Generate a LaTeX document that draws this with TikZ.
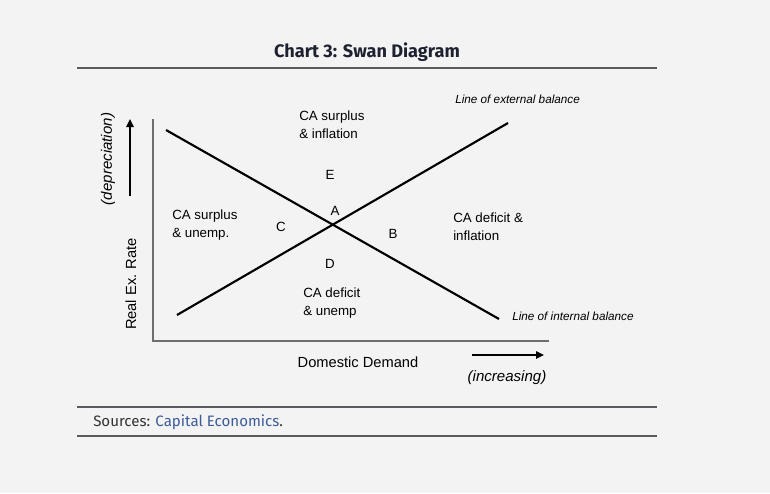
\documentclass[tikz,border=0pt]{standalone}
\usepackage{fontspec}
\setmainfont{Liberation Sans}
\newfontfamily\titlefont{Fira Sans}
\usetikzlibrary{arrows.meta}
\definecolor{bgc}{HTML}{F3F3F4}
\definecolor{rulec}{HTML}{5A5A5E}
\definecolor{axisc}{HTML}{6E6E6E}
\definecolor{linkc}{HTML}{3B5B98}
\definecolor{titlec}{HTML}{1E2230}
\begin{document}
\begin{tikzpicture}[x=0.75pt,y=-0.75pt,
  lbl/.style={font=\fontsize{10}{13.5}\selectfont,text=black,align=left,inner sep=0pt},
  axlbl/.style={font=\fontsize{11}{13}\selectfont,text=black,inner sep=0pt},
  axital/.style={font=\fontsize{11.3}{13}\selectfont\itshape,text=black,inner sep=0pt},
  ital/.style={font=\fontsize{8.8}{10}\selectfont\itshape,text=black,inner sep=0pt},
  letter/.style={font=\fontsize{10}{11}\selectfont,text=black,inner sep=0pt},
  hrule/.style={draw=rulec,line width=0.8pt},
  axis/.style={draw=axisc,line width=0.8pt},
  balline/.style={draw=black,line width=1.6pt},
  dirarrow/.style={draw=black,line width=1.6pt,-{Triangle[length=6pt,width=5.5pt]}}]
\useasboundingbox (0,0) rectangle (770,493);
\fill[bgc] (0,0) rectangle (770,493);
% title
\node[font=\titlefont\bfseries\fontsize{13.6}{15}\selectfont,text=titlec] (title) at (367,52) {Chart 3: Swan Diagram};
% rules
\coordinate (r1a) at (77,68); \coordinate (r1b) at (657,68);
\coordinate (r2a) at (77,407); \coordinate (r2b) at (657,407);
\coordinate (r3a) at (77,436); \coordinate (r3b) at (657,436);
\draw[hrule] (r1a) -- (r1b);
\draw[hrule] (r2a) -- (r2b);
\draw[hrule] (r3a) -- (r3b);
% axes
\coordinate (ytop) at (153,119);
\coordinate (orig) at (153,341);
\coordinate (xend) at (549,341);
\draw[axis] (ytop) -- (orig) -- (xend);
% balance lines
\coordinate (ib1) at (166,130); \coordinate (ib2) at (499,319);
\coordinate (eb1) at (177,315); \coordinate (eb2) at (508,123);
\draw[balline] (ib1) -- (ib2);
\draw[balline] (eb1) -- (eb2);
% line labels
\node[ital,anchor=west] (extlbl) at (455,99) {Line of external balance};
\node[ital,anchor=west] (intlbl) at (512,316) {Line of internal balance};
% zone labels
\node[lbl,anchor=west] (zoneN) at (299,124.5) {CA surplus\\\& inflation};
\node[lbl,anchor=west] (zoneW) at (172,225.5) {CA surplus\\\& unemp.};
\node[lbl,anchor=west] (zoneE) at (453,227) {CA deficit \&\\inflation};
\node[lbl,anchor=west] (zoneS) at (303,303) {CA deficit\\\& unemp};
% letters
\node[letter] (E) at (330,175) {E};
\node[letter] (A) at (335,211) {A};
\node[letter] (C) at (281,227) {C};
\node[letter] (B) at (393,234) {B};
\node[letter] (D) at (330,264) {D};
% axis titles
\node[axlbl,rotate=90] (ylab) at (131,284) {Real Ex. Rate};
\node[axital,rotate=90] (dep) at (108,159) {(depreciation)};
\coordinate (ua1) at (130,196); \coordinate (ua2) at (130,119);
\draw[dirarrow] (ua1) -- (ua2);
\node[axlbl] (xlab) at (358,362) {Domestic Demand};
\node[axital] (inc) at (507,378) {(increasing)};
\coordinate (ra1) at (472,355); \coordinate (ra2) at (544,355);
\draw[dirarrow] (ra1) -- (ra2);
% source
\node[font=\titlefont\fontsize{11.3}{13}\selectfont,text=black!80,anchor=west,inner sep=0pt] (src) at (93,422) {Sources: \textcolor{linkc}{Capital Economics}.};
\end{tikzpicture}
\end{document}
